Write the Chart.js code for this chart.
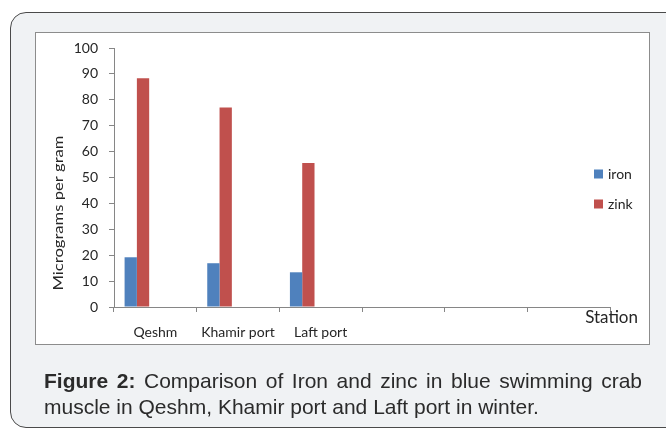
<!DOCTYPE html>
<html>
<head>
<meta charset="utf-8">
<script src="https://cdn.jsdelivr.net/npm/chart.js@4.4.0/dist/chart.umd.min.js"></script>
<style>
  body { margin: 0; width: 666px; height: 431px; overflow: hidden; position: relative; background: #fff; }
  #panel { position: absolute; left: 10px; top: 12px; width: 720px; height: 414px; background: #f0f2f4;
           border: 1.5px solid #4a4a4a; border-radius: 16px; }
  #box { position: absolute; left: 35px; top: 32px; width: 613px; height: 311px; background: #fff; border: 1px solid #8c8c8c; }
  #chart { position: absolute; left: 0; top: 0; }
  #caption { position: absolute; left: 44px; top: 368px; width: 598px; font-family: "Liberation Sans", Arial, sans-serif;
             font-size: 21px; line-height: 26px; color: #2b2b2b; text-align: justify; text-align-last: left; }
</style>
</head>
<body>
<div id="panel"></div>
<div id="box"></div>
<canvas id="chart" width="666" height="431"></canvas>
<div id="caption"><b>Figure 2:</b> Comparison of Iron and zinc in blue swimming crab muscle in Qeshm, Khamir port and Laft port in winter.</div>
<script>
// Data
const stations = ['Qeshm', 'Khamir port', 'Laft port', '', '', ''];
const iron = [19.2, 16.9, 13.4];
const zink = [88.3, 77.0, 55.6];
const yMin = 0;
const yMax = 100;
const yStep = 10;

const axisColor = '#868686';
const textColor = '#262626';
const fontName = 'Lato';

// legend, axis title and "Station" label
const extras = {
    id: 'extras',
    afterDraw: function(chart) {
        let ctx = chart.ctx;
        let area = chart.chartArea;
        ctx.save();

        // Legend
        ctx.font = `14px ${fontName}`;
        ctx.textBaseline = 'middle';
        ctx.textAlign = 'left';
        let y = area.top + 126;
        chart.data.datasets.filter(d => d.label).forEach(d => {
            ctx.fillStyle = d.backgroundColor;
            ctx.fillRect(area.right - 16, y - 4.5, 9, 9);
            ctx.fillStyle = textColor;
            ctx.fillText(d.label, area.right - 2, y);
            y += 30;
        });

        // Y axis title
        ctx.save();
        ctx.translate(area.left - 56, area.top + 165);
        ctx.rotate(-Math.PI / 2);
        ctx.font = `14px ${fontName}`;
        let title = 'Micrograms per gram';
        let w = ctx.measureText(title).width;
        ctx.scale(155 / w, 1);
        ctx.textAlign = 'center';
        ctx.fillText(title, 0, 0);
        ctx.restore();

        // X axis title
        ctx.font = `17px ${fontName}`;
        ctx.textAlign = 'right';
        ctx.fillStyle = textColor;
        ctx.fillText('Station', area.right + 28, area.bottom + 11);
        ctx.restore();
    }
};

let ctx = document.getElementById('chart').getContext('2d');
let chart = new Chart(ctx, {
    type: 'bar',
    data: {
        labels: stations,
        datasets: [
            { label: 'iron', data: iron, backgroundColor: '#4F81BD' },
            { label: 'zink', data: zink, backgroundColor: '#C0504D' },
            { label: '', data: [], backgroundColor: '#9BBB59' },
            { label: '', data: [], backgroundColor: '#8064A2' },
            { label: '', data: [], backgroundColor: '#4BACC6' }
        ]
    },
    options: {
        responsive: false,
        animation: false,
        categoryPercentage: 0.744,
        barPercentage: 1,
        layout: { padding: { left: 54, top: 48, right: 56, bottom: 84 } },
        plugins: {
            legend: { display: false },
            tooltip: { enabled: false }
        },
        scales: {
            x: {
                grid: { drawOnChartArea: false, drawTicks: true, tickLength: 5, color: axisColor, offset: true },
                border: { color: axisColor },
                ticks: { color: textColor, font: { family: fontName, size: 14 }, padding: 12, maxRotation: 0, autoSkip: false },
                afterFit: function(s) { s.height = 40; }
            },
            y: {
                min: yMin,
                max: yMax,
                grid: { drawOnChartArea: false, tickLength: 5, color: axisColor },
                border: { color: axisColor },
                ticks: { stepSize: yStep, color: textColor, font: { family: fontName, size: 14 }, padding: 11 },
                afterFit: function(s) { s.width = 60; }
            }
        }
    },
    plugins: [extras]
});
</script>
</body>
</html>
